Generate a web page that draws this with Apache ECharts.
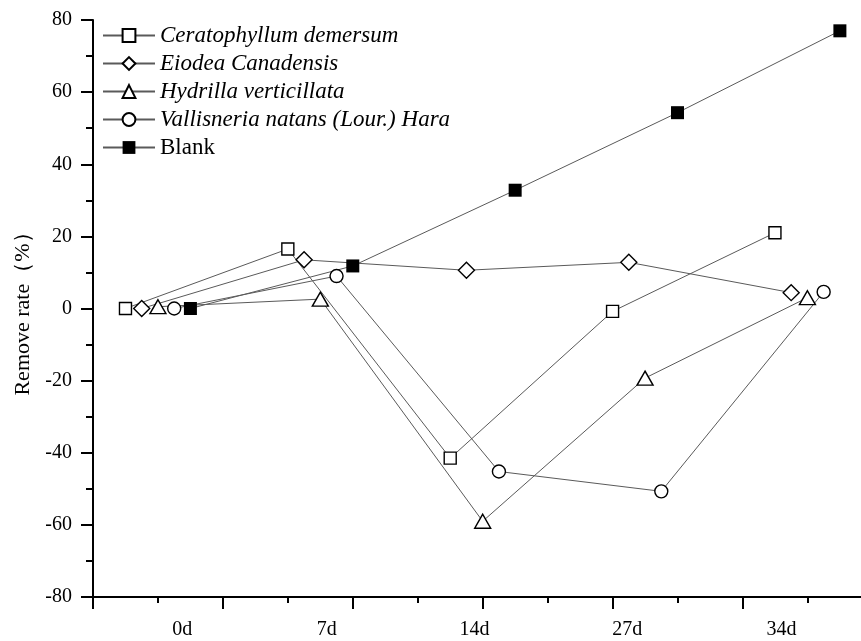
<!DOCTYPE html>
<html>
<head>
<meta charset="utf-8">
<script src="https://cdn.jsdelivr.net/npm/echarts@6/dist/echarts.min.js"></script>
<style>
  html, body { margin: 0; padding: 0; background: #fff; }
  #chart { width: 861px; height: 641px; }
</style>
</head>
<body>
<div id="chart"></div>
<script>
// categories (days) and where their labels sit on the x scale
const days = ["0d", "7d", "14d", "27d", "34d"];
const dayPos = [0.4, 1.4, 2.4, 3.4, 4.4];
const dayLabelPos = [0.55, 1.44, 2.35, 3.29, 4.24];

// tick marks on the x scale
const xMajorTicks = [0, 0.8, 1.6, 2.4, 3.2, 4.0];
const xMinorTicks = [0.4, 1.2, 2.0, 2.8, 3.6, 4.4];

// series values, remove rate (%)
const ceratophyllum = [0, 16.5, -41.5, -0.8, 21];
const eiodea = [0, 13.5, 10.6, 12.8, 4.4];
const hydrilla = [0.5, 2.6, -59, -19.3, 3];
const vallisneria = [0, 9, -45.2, -50.7, 4.6];
const blank = [0, 11.8, 32.8, 54.3, 77];

// small dodge per series inside each day
const dodge = [-0.2, -0.1, 0, 0.1, 0.2];

const yTicks = { min: -80, max: 80, step: 20 };
const xMax = 4.73;

const font = "Liberation Serif";

function makeSeries(name, values, idx, symbol, size, filled) {
  return {
    name: name,
    type: "line",
    data: values.map((v, i) => [dayPos[i] + dodge[idx], v]),
    symbol: symbol,
    symbolSize: size,
    showAllSymbol: true,
    lineStyle: { color: "#5a5a5a", width: 1 },
    itemStyle: {
      color: filled ? "#000" : "#fff",
      borderColor: "#000",
      borderWidth: filled ? 0 : 1.4,
    },
    emphasis: { disabled: true },
    animation: false,
  };
}

const chart = echarts.init(document.getElementById("chart"));
chart.setOption({
  backgroundColor: "#fff",
  textStyle: { fontFamily: font },
  grid: { left: 93, right: 0, top: 20, bottom: 44, containLabel: false },
  legend: {
    orient: "vertical",
    left: 102,
    top: 24,
    padding: 0,
    itemWidth: 52,
    itemHeight: 16,
    itemGap: 5,
    selectedMode: false,
    textStyle: { fontFamily: font, fontSize: 23, color: "#000", fontStyle: "italic" },
    data: [
      { name: "Ceratophyllum demersum" },
      { name: "Eiodea Canadensis" },
      { name: "Hydrilla verticillata" },
      { name: "Vallisneria natans (Lour.) Hara" },
      { name: "Blank", textStyle: { fontStyle: "normal" } },
    ],
  },
  xAxis: [
    {
      type: "value",
      min: 0,
      max: xMax,
      axisLine: { show: true, onZero: false, lineStyle: { color: "#000", width: 2 } },
      axisTick: { show: true, customValues: xMajorTicks, length: 12, lineStyle: { color: "#000", width: 2 } },
      splitLine: { show: false },
      axisLabel: {
        customValues: dayLabelPos,
        formatter: (v) => {
          const i = dayLabelPos.findIndex((p) => Math.abs(p - v) < 1e-6);
          return i >= 0 ? days[i] : "";
        },
        margin: 23,
        fontFamily: font,
        fontSize: 20,
        color: "#000",
      },
    },
    {
      type: "value",
      min: 0,
      max: xMax,
      position: "bottom",
      axisLine: { show: false, onZero: false },
      axisTick: { show: true, customValues: xMinorTicks, length: 6, lineStyle: { color: "#000", width: 2 } },
      splitLine: { show: false },
      axisLabel: { show: false },
    },
  ],
  yAxis: {
    type: "value",
    min: yTicks.min,
    max: yTicks.max,
    interval: yTicks.step,
    name: "Remove rate（%）",
    nameLocation: "middle",
    nameGap: 58,
    nameTextStyle: { fontFamily: font, fontSize: 22, color: "#000" },
    axisLine: { show: true, lineStyle: { color: "#000", width: 2 } },
    axisTick: { show: true, length: 12, lineStyle: { color: "#000", width: 2 } },
    minorTick: { show: true, splitNumber: 2, length: 7, lineStyle: { color: "#000", width: 2 } },
    splitLine: { show: false },
    axisLabel: { margin: 21, fontFamily: font, fontSize: 20, color: "#000" },
  },
  series: [
    makeSeries("Ceratophyllum demersum", ceratophyllum, 0, "rect", 12, false),
    makeSeries("Eiodea Canadensis", eiodea, 1, "diamond", 16, false),
    makeSeries("Hydrilla verticillata", hydrilla, 2, "triangle", [16, 14], false),
    makeSeries("Vallisneria natans (Lour.) Hara", vallisneria, 3, "circle", 13, false),
    makeSeries("Blank", blank, 4, "rect", 13, true),
  ],
});
</script>
</body>
</html>
